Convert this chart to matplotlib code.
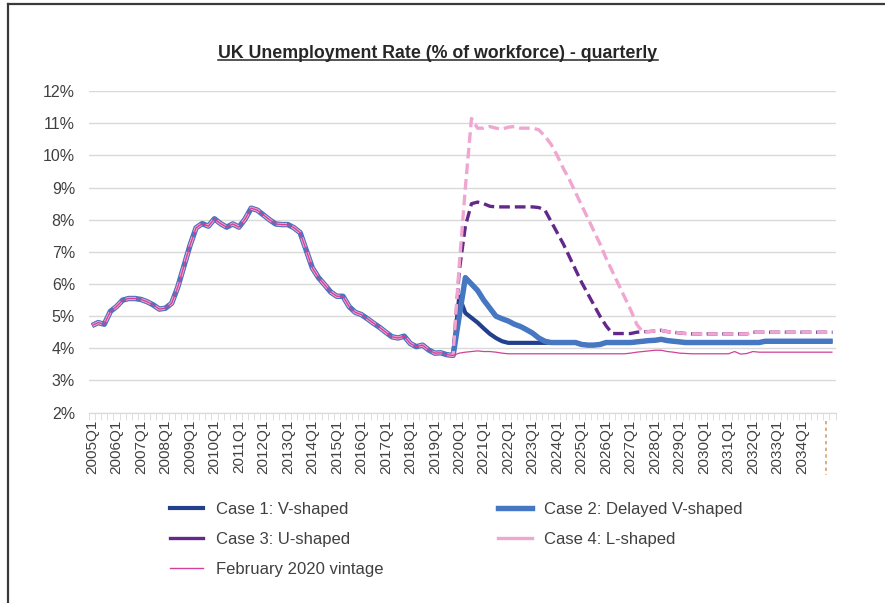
import matplotlib.pyplot as plt
from matplotlib.lines import Line2D
import numpy as np

plt.rcParams['font.family'] = ['Liberation Sans', 'DejaVu Sans']

# quarterly categories 2005Q1 .. 2035Q2
quarters = [f'{y}Q{q}' for y in range(2005, 2036) for q in range(1, 5)][:122]

# outturn 2005Q1 - 2019Q4 (shared by all series)
history = [4.71, 4.8, 4.75, 5.15, 5.3, 5.5, 5.55, 5.55,
           5.52, 5.45, 5.35, 5.22, 5.25, 5.4, 5.9, 6.55,
           7.2, 7.75, 7.88, 7.8, 8.03, 7.88, 7.77, 7.87,
           7.77, 8.02, 8.36, 8.3, 8.15, 8.0, 7.87, 7.85,
           7.85, 7.75, 7.6, 7.05, 6.5, 6.2, 5.98, 5.75,
           5.62, 5.62, 5.3, 5.12, 5.05, 4.92, 4.78, 4.65,
           4.5, 4.36, 4.32, 4.38, 4.15, 4.05, 4.1, 3.95,
           3.85, 3.86, 3.8, 3.78]

# scenarios 2020Q1 - 2035Q2
case1_fc = [5.6, 5.1, 4.95, 4.8, 4.62, 4.45, 4.32, 4.22, 4.17, 4.17,
            4.17, 4.17, 4.17, 4.17, 4.17, 4.18, 4.18, 4.18, 4.18, 4.18,
            4.12, 4.1, 4.1, 4.12, 4.18, 4.18, 4.18, 4.18, 4.18, 4.2,
            4.22, 4.24, 4.25, 4.28, 4.24, 4.22, 4.2, 4.18, 4.18, 4.18,
            4.18, 4.18, 4.18, 4.18, 4.18, 4.18, 4.18, 4.18, 4.18, 4.18,
            4.22, 4.22, 4.22, 4.22, 4.22, 4.22, 4.22, 4.22, 4.22, 4.22,
            4.22, 4.22]
case2_fc = [5.0, 6.2, 6.0, 5.8, 5.5, 5.25, 5.0, 4.92, 4.85, 4.75,
            4.68, 4.58, 4.47, 4.32, 4.22, 4.18, 4.18, 4.18, 4.18, 4.18,
            4.12, 4.1, 4.1, 4.12, 4.18, 4.18, 4.18, 4.18, 4.18, 4.2,
            4.22, 4.24, 4.25, 4.28, 4.24, 4.22, 4.2, 4.18, 4.18, 4.18,
            4.18, 4.18, 4.18, 4.18, 4.18, 4.18, 4.18, 4.18, 4.18, 4.18,
            4.22, 4.22, 4.22, 4.22, 4.22, 4.22, 4.22, 4.22, 4.22, 4.22,
            4.22, 4.22]
case3_fc = [6.4, 7.8, 8.5, 8.55, 8.5, 8.42, 8.4, 8.4, 8.4, 8.4,
            8.4, 8.4, 8.4, 8.38, 8.3, 7.95, 7.6, 7.25, 6.85, 6.45,
            6.05, 5.7, 5.35, 5.0, 4.7, 4.46, 4.46, 4.46, 4.46, 4.5,
            4.52, 4.52, 4.54, 4.56, 4.52, 4.5, 4.48, 4.46, 4.45, 4.45,
            4.45, 4.45, 4.45, 4.45, 4.45, 4.45, 4.45, 4.45, 4.5, 4.5,
            4.5, 4.5, 4.5, 4.5, 4.5, 4.5, 4.5, 4.5, 4.5, 4.5,
            4.5, 4.5]
case4_fc = [6.6, 9.0, 11.15, 10.85, 10.85, 10.9, 10.85, 10.82, 10.88, 10.9,
            10.85, 10.85, 10.85, 10.8, 10.6, 10.35, 10.0, 9.6, 9.25, 8.85,
            8.45, 8.05, 7.65, 7.25, 6.8, 6.4, 6.0, 5.6, 5.2, 4.75,
            4.5, 4.52, 4.54, 4.56, 4.52, 4.5, 4.48, 4.46, 4.45, 4.45,
            4.45, 4.45, 4.45, 4.45, 4.45, 4.45, 4.45, 4.45, 4.5, 4.5,
            4.5, 4.5, 4.5, 4.5, 4.5, 4.5, 4.5, 4.5, 4.5, 4.5,
            4.5, 4.5]
feb2020_fc = [3.85, 3.88, 3.9, 3.92, 3.9, 3.9, 3.88, 3.85, 3.83, 3.83,
              3.83, 3.83, 3.83, 3.83, 3.83, 3.83, 3.83, 3.83, 3.83, 3.83,
              3.83, 3.83, 3.83, 3.83, 3.83, 3.83, 3.83, 3.83, 3.85, 3.88,
              3.9, 3.92, 3.94, 3.94, 3.9, 3.88, 3.85, 3.84, 3.83, 3.83,
              3.83, 3.83, 3.83, 3.83, 3.83, 3.9, 3.82, 3.84, 3.9, 3.88,
              3.88, 3.88, 3.88, 3.88, 3.88, 3.88, 3.88, 3.88, 3.88, 3.88,
              3.88, 3.88]

series = [
    ('Case 1: V-shaped', history + case1_fc, '#22408e', 3.0, '-'),
    ('Case 2: Delayed V-shaped', history + case2_fc, '#4677c2', 3.9, '-'),
    ('Case 3: U-shaped', history + case3_fc, '#64288a', 2.4, (0, (3.2, 1.5))),
    ('Case 4: L-shaped', history + case4_fc, '#f0a6d0', 2.4, (0, (3.2, 1.5))),
    ('February 2020 vintage', history + feb2020_fc, '#d2409a', 0.9, '-'),
]

fig = plt.figure(figsize=(8.85, 6.03), dpi=100)
ax = fig.add_axes([89 / 885, 1 - 412.6 / 603, (835.6 - 89) / 885, 321.4 / 603])

x = np.arange(len(quarters))
for name, vals, col, lw, ls in series:
    ax.plot(x, vals, color=col, lw=lw, ls=ls, label=name, solid_capstyle='butt')

ax.set_ylim(2, 12)
ax.set_xlim(-0.5, len(quarters) - 0.5)
ax.set_yticks(range(2, 13))
ax.set_yticklabels([f'{v}%' for v in range(2, 13)], fontsize=11.5, color='#404040')
ax.yaxis.grid(True, color='#d9d9d9', lw=1)
ax.set_axisbelow(True)
ax.tick_params(axis='y', length=0, pad=10)

major = list(range(0, len(quarters), 4))
labels = [quarters[i] for i in major]
labels[-1] = ''
ax.set_xticks(major)
ax.set_xticklabels(labels, rotation=90, fontsize=11, color='#404040')
ax.set_xticks(np.arange(-0.5, len(quarters), 1), minor=True)
ax.tick_params(axis='x', which='major', length=0, pad=5)
ax.tick_params(axis='x', which='minor', length=5, color='#d9d9d9')
for s in ['top', 'right', 'left']:
    ax.spines[s].set_visible(False)
ax.spines['bottom'].set_color('#d9d9d9')

# odd dashed stub where the last label should be
ax.plot([major[-1], major[-1]], [-0.025, -0.195], color='#d8a070', lw=1.2,
        ls=(0, (2, 2)), transform=ax.get_xaxis_transform(), clip_on=False)

# title, underlined
t = fig.text(438 / 885, 1 - 54 / 603, 'UK Unemployment Rate (% of workforce) - quarterly',
             ha='center', va='center', fontsize=12.8, fontweight='bold', color='#262626')
fig.canvas.draw()
bb = t.get_window_extent().transformed(fig.transFigure.inverted())
fig.add_artist(Line2D([bb.x0, bb.x1], [bb.y0 + 0.004, bb.y0 + 0.004], color='#262626', lw=1.1))

# legend: solid handles
handles = {name: Line2D([], [], color=col, lw=lw if lw > 1 else 1.0) for name, vals, col, lw, ls in series}
order = ['Case 1: V-shaped', 'Case 3: U-shaped', 'February 2020 vintage',
         'Case 2: Delayed V-shaped', 'Case 4: L-shaped']
fig.legend([handles[n] for n in order], order, ncol=2, loc='upper left',
           bbox_to_anchor=(170 / 885, 1 - 502 / 603), frameon=False, fontsize=12,
           handlelength=2.0, handletextpad=0.75, columnspacing=6.9, labelspacing=0.9,
           borderpad=0, borderaxespad=0, labelcolor='#404040')

# frame edges
fig.add_artist(Line2D([8 / 885, 8 / 885], [0, 1 - 4 / 603], color='#3a3a3a', lw=1.6))
fig.add_artist(Line2D([8 / 885, 1], [1 - 4 / 603, 1 - 4 / 603], color='#3a3a3a', lw=1.6))

fig.savefig('out.png', dpi=100)
